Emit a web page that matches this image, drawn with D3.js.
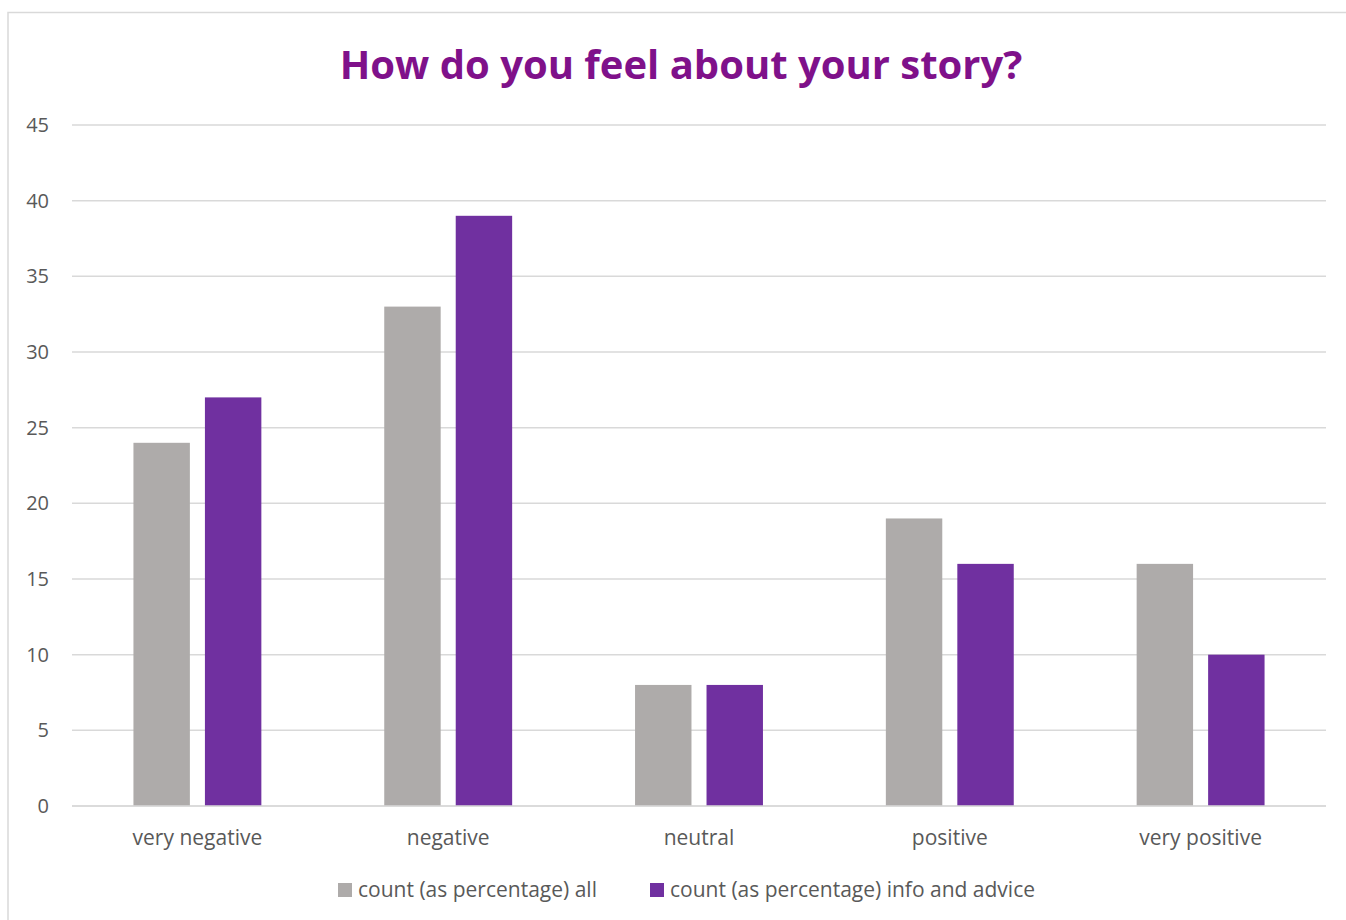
<!DOCTYPE html>
<html><head><meta charset="utf-8">
<script src="https://cdn.jsdelivr.net/npm/d3@7"></script>
<style>body{margin:0;background:#fff}svg{display:block}</style>
</head><body>
<script>
const categories = ["very negative","negative","neutral","positive","very positive"];
const seriesNames = ["count (as percentage) all","count (as percentage) info and advice"];
const valuesAll = [24,33,8,19,16];
const valuesInfo = [27,39,8,16,10];
const yTicks = [0,5,10,15,20,25,30,35,40,45];
const title = "How do you feel about your story?";

const W=1346,H=920;
const colors=["#AEABAA","#7030A0"];
const font="'Open Sans', sans-serif";
const svg=d3.select("body").append("svg").attr("width",W).attr("height",H);
svg.append("rect").attr("x",8).attr("y",12.5).attr("width",W).attr("height",H).attr("fill","#fff").attr("stroke","#D9D9D9").attr("stroke-width",1.5);

const x=d3.scaleBand().domain(categories).range([72,1326]);
const y=d3.scaleLinear().domain([0,45]).range([806,125]);

svg.append("g").selectAll("line").data(yTicks).join("line")
 .attr("x1",72).attr("x2",1326).attr("y1",d=>y(d)).attr("y2",d=>y(d))
 .attr("stroke","#D9D9D9").attr("stroke-width",1.5);
svg.append("g").selectAll("text").data(yTicks).join("text")
 .attr("x",49).attr("y",d=>y(d)).attr("dy","0.35em").attr("text-anchor","end")
 .attr("font-family",font).attr("font-size",20).attr("fill","#595959").text(d=>d);

const bw=x.bandwidth();
const barW=bw*0.225, gap=bw*0.06;
const series=[valuesAll,valuesInfo];
series.forEach((vals,si)=>{
  svg.append("g").selectAll("rect").data(categories).join("rect")
   .attr("x",(c)=>x(c)+bw/2 - gap/2 - barW + si*(barW+gap))
   .attr("width",barW)
   .attr("y",(c,i)=>y(vals[i]))
   .attr("height",(c,i)=>y(0)-y(vals[i]))
   .attr("fill",colors[si]);
});
svg.append("line").attr("x1",72).attr("x2",1326).attr("y1",y(0)).attr("y2",y(0)).attr("stroke","#D9D9D9").attr("stroke-width",1.5);

svg.append("g").selectAll("text").data(categories).join("text")
 .attr("x",c=>x(c)+bw/2).attr("y",838).attr("dy","0.35em").attr("text-anchor","middle")
 .attr("font-family",font).attr("font-size",21).attr("fill","#595959").text(c=>c);

svg.append("text").attr("x",681).attr("y",65).attr("dy","0.35em").attr("text-anchor","middle")
 .attr("font-family",font).attr("font-weight","bold").attr("font-size",40).attr("fill","#7F118A").text(title);

const legX=[338,650];
seriesNames.forEach((n,i)=>{
  const g=svg.append("g");
  g.append("rect").attr("x",legX[i]).attr("y",883).attr("width",14).attr("height",14).attr("fill",colors[i]);
  g.append("text").attr("x",legX[i]+20).attr("y",890).attr("dy","0.35em")
   .attr("font-family",font).attr("font-size",21).attr("fill","#595959").text(n);
});
</script>
</body></html>
